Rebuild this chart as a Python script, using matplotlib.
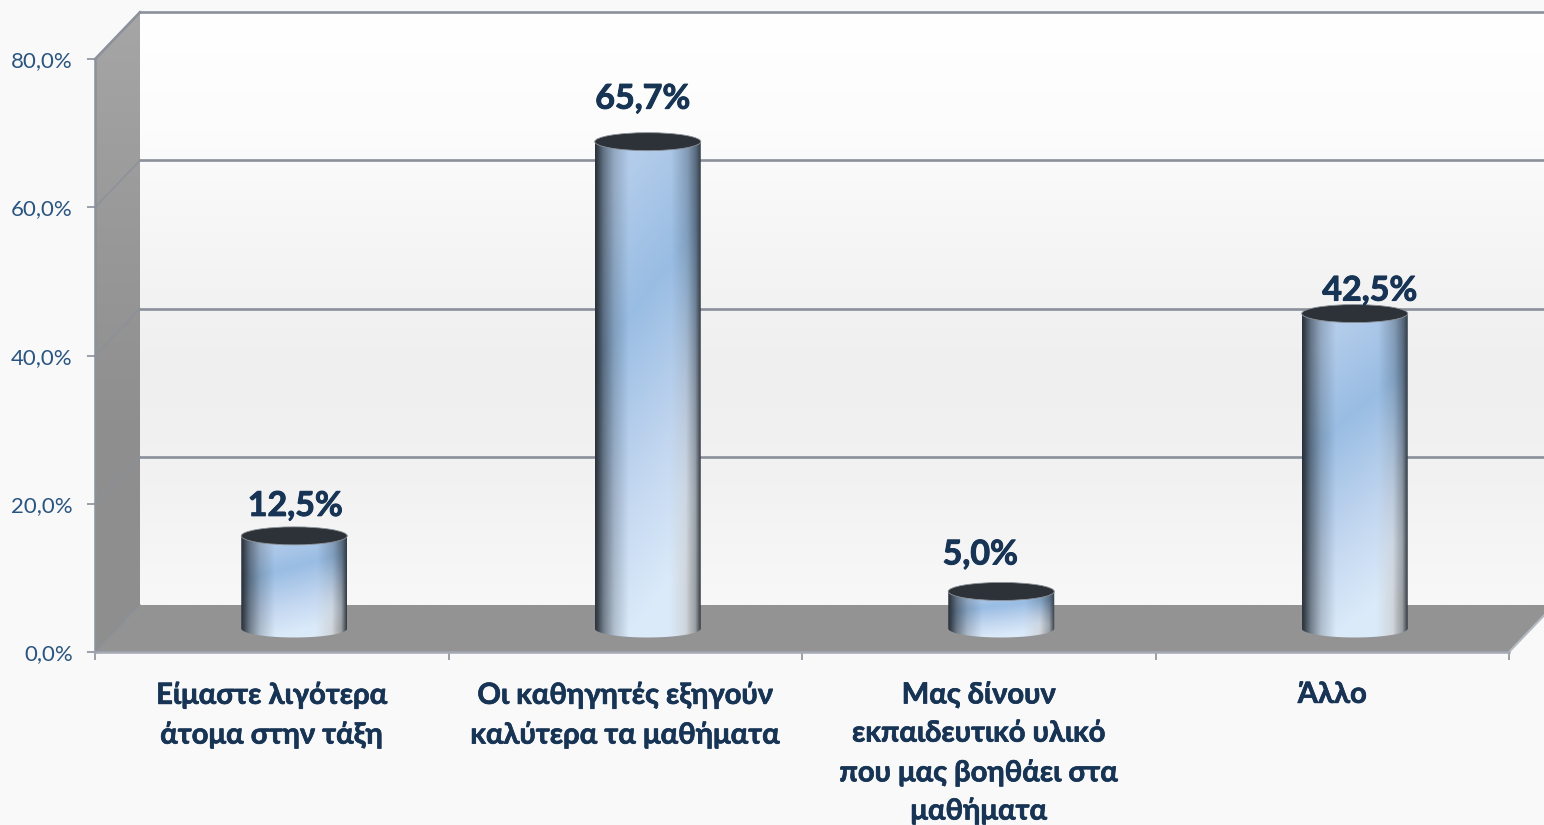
import numpy as np
import matplotlib
matplotlib.use("Agg")
import matplotlib.pyplot as plt
import matplotlib.patheffects as pe
from matplotlib.patches import Ellipse, Polygon, PathPatch
from matplotlib.path import Path
from matplotlib.colors import LinearSegmentedColormap
from matplotlib.ticker import FuncFormatter

plt.rcParams['font.family'] = ['Lato', 'Open Sans', 'DejaVu Sans']

categories = ["Είμαστε λιγότερα\nάτομα στην τάξη",
              "Οι καθηγητές εξηγούν\nκαλύτερα τα μαθήματα",
              "Μας δίνουν\nεκπαιδευτικό υλικό\nπου μας βοηθάει στα\nμαθήματα",
              "Άλλο"]
values = [12.5, 65.7, 5.0, 42.5]
y_ticks = [0, 20, 40, 60, 80]

DARK = "#173455"
AXIS = "#8b909a"

W, H = 1544, 825
px_x = 353.5       # pixels per category
px_y = 7.41        # pixels per percent
dx = 45 / px_x     # depth of the fake 3d box
dy = 47 / px_y
bar_w = 106 / px_x
top_ry = 9 / px_y


def comma_pct(v):
    return f"{v:.1f}".replace(".", ",") + "%"


def gradient(ax, colors, extent, clip=None, zorder=1):
    cmap = LinearSegmentedColormap.from_list("g", colors)
    grad = np.linspace(0, 1, 256)[:, None]
    im = ax.imshow(grad, cmap=cmap, extent=extent, origin="upper", aspect="auto",
                   zorder=zorder, vmin=0, vmax=1)
    if clip is not None:
        im.set_clip_path(clip)
    return im


def cylinder_image():
    # body shading, colour ramp running a bit diagonally plus a dark rim
    ny, nx = 200, 160
    yy, xx = np.mgrid[0:1:ny * 1j, 0:1:nx * 1j]
    t = np.clip(yy + 0.28 * (xx - 0.5), 0, 1)
    stops = [0.0, 0.3, 0.65, 0.95]
    c = [(0.70, 0.80, 0.92), (0.60, 0.74, 0.89), (0.76, 0.84, 0.94), (0.86, 0.92, 0.98)]
    rgb = np.dstack([np.interp(t, stops, [s[i] for s in c]) for i in range(3)])
    # greyer lower right corner
    grey = np.clip((xx - 0.7) / 0.2, 0, 1) * np.clip((yy - 0.3) / 0.6, 0, 1)
    rgb = rgb * (1 - 0.75 * grey[..., None]) + 0.78 * 0.75 * grey[..., None]
    left = np.interp(xx, [0, 0.02, 0.08, 0.18, 0.32], [0.95, 0.88, 0.55, 0.22, 0])
    right_top = np.interp(xx, [0.72, 0.88, 0.96, 1], [0, 0.3, 0.62, 0.88])
    right_low = np.interp(xx, [0.86, 0.95, 1], [0, 0.3, 0.9])
    k = np.clip(yy / 0.7, 0, 1)
    shade = np.clip(left + right_top * (1 - k) + right_low * k, 0, 0.95)[..., None]
    dark = np.array([0.14, 0.17, 0.2])
    return rgb * (1 - shade) + dark * shade


fig = plt.figure(figsize=(W / 100, H / 100), dpi=100, facecolor="#f9f9f9")
ax = fig.add_axes([0, 0, 1, 1])
ax.set_facecolor("none")
ax.set_xlim(-95 / px_x, (W - 95) / px_x)
ax.set_ylim((652 - H) / px_y, 652 / px_y)
ax.set_autoscale_on(False)

n = len(categories)
ymax = y_ticks[-1]

# back wall
gradient(ax, ["#ffffff", "#fcfcfc", "#f5f5f5", "#efefef", "#f2f2f2", "#f8f8f8"],
         (dx, n + dx, dy, ymax + dy), zorder=1)
# side wall
side = Polygon([(0, 0), (dx, dy), (dx, ymax + dy), (0, ymax)], transform=ax.transData,
               facecolor="none", edgecolor="none", zorder=1)
ax.add_patch(side)
gradient(ax, ["#a6a6a6", "#999999", "#8e8e8e", "#8f8f8f"], (0, dx, 0, ymax + dy),
         clip=side, zorder=1)
# floor
ax.add_patch(Polygon([(0, 0), (dx, dy), (n + dx, dy), (n, 0)], facecolor="#939393",
                     edgecolor="none", zorder=2))

# grid on both walls
for v in y_ticks[1:]:
    ax.plot([dx, n + dx], [v + dy, v + dy], color=AXIS, lw=1.9, zorder=3)
    ax.plot([0, dx], [v, v + dy], color=AXIS, lw=1.9 if v == ymax else 1.0, zorder=3)
ax.plot([0, dx], [0, dy], color=AXIS, lw=1.0, zorder=3)
ax.plot([n, n + dx], [0, dy], color="#b5b9c0", lw=1.5, zorder=3)

# cylinders
body = cylinder_image()
theta = np.linspace(np.pi, 2 * np.pi, 60)
for i, v in enumerate(values):
    cx = i + 0.5 + dx / 2
    base = dy / 2
    top = base + v
    rx = bar_w / 2
    xs = cx + rx * np.cos(theta)
    ys = base + top_ry * np.sin(theta)
    verts = list(zip(xs, ys)) + [(cx + rx, top), (cx - rx, top), (xs[0], ys[0])]
    outline = PathPatch(Path(verts), transform=ax.transData, facecolor="none",
                        edgecolor="none")
    ax.add_patch(outline)
    im = ax.imshow(body, extent=(cx - rx, cx + rx, base - top_ry, top), origin="upper",
                   aspect="auto", zorder=4, interpolation="bilinear")
    im.set_clip_path(outline)
    ax.add_patch(Ellipse((cx, top), bar_w, 2 * top_ry, facecolor="#2c3237",
                         edgecolor="#8d939b", lw=0.6, zorder=5))

# value labels were placed by hand in the source, so nudge each one (pixels)
label_gap = [30, 43, 37, 23]
label_shift = [1, -5, -21, 15]
bolder = [pe.withStroke(linewidth=0.7, foreground=DARK)]
for i, v in enumerate(values):
    cx = i + 0.5 + dx / 2 + label_shift[i] / px_x
    ax.text(cx, dy / 2 + v + label_gap[i] / px_y, comma_pct(v), ha="center", va="center",
            fontsize=24.5, fontweight="bold", color=DARK, zorder=6, path_effects=bolder)

# axes
for s in ("top", "right"):
    ax.spines[s].set_visible(False)
ax.spines["left"].set_position(("data", 0))
ax.spines["bottom"].set_position(("data", 0))
ax.spines["left"].set_bounds(0, ymax)
ax.spines["bottom"].set_bounds(0, n)
ax.spines["left"].set_color(AXIS)
ax.spines["bottom"].set_color("#a3a8b2")
ax.spines["left"].set_linewidth(1.8)
ax.spines["bottom"].set_linewidth(1.8)
ax.spines["left"].set_zorder(3)
ax.spines["bottom"].set_zorder(3)

ax.set_yticks(y_ticks)
ax.yaxis.set_major_formatter(FuncFormatter(lambda v, _: comma_pct(v)))
ax.tick_params(axis="y", length=6, width=1.2, color=AXIS, pad=10, labelsize=16,
               labelcolor="#2a5580")
ax.set_xticks(np.arange(n + 1))
ax.set_xticklabels([])
ax.tick_params(axis="x", which="major", length=6, width=1.2, color=AXIS)
ax.set_xticks(np.arange(n) + 0.5, minor=True)
ax.set_xticklabels(categories, minor=True)
ax.tick_params(axis="x", which="minor", length=0, pad=21.5, labelsize=21, labelcolor=DARK)
for lab in ax.get_xticklabels(minor=True):
    lab.set_fontweight("bold")
    lab.set_linespacing(1.58)
    lab.set_path_effects([pe.withStroke(linewidth=0.5, foreground=DARK)])

fig.savefig("out.png", dpi=100, facecolor=fig.get_facecolor())
